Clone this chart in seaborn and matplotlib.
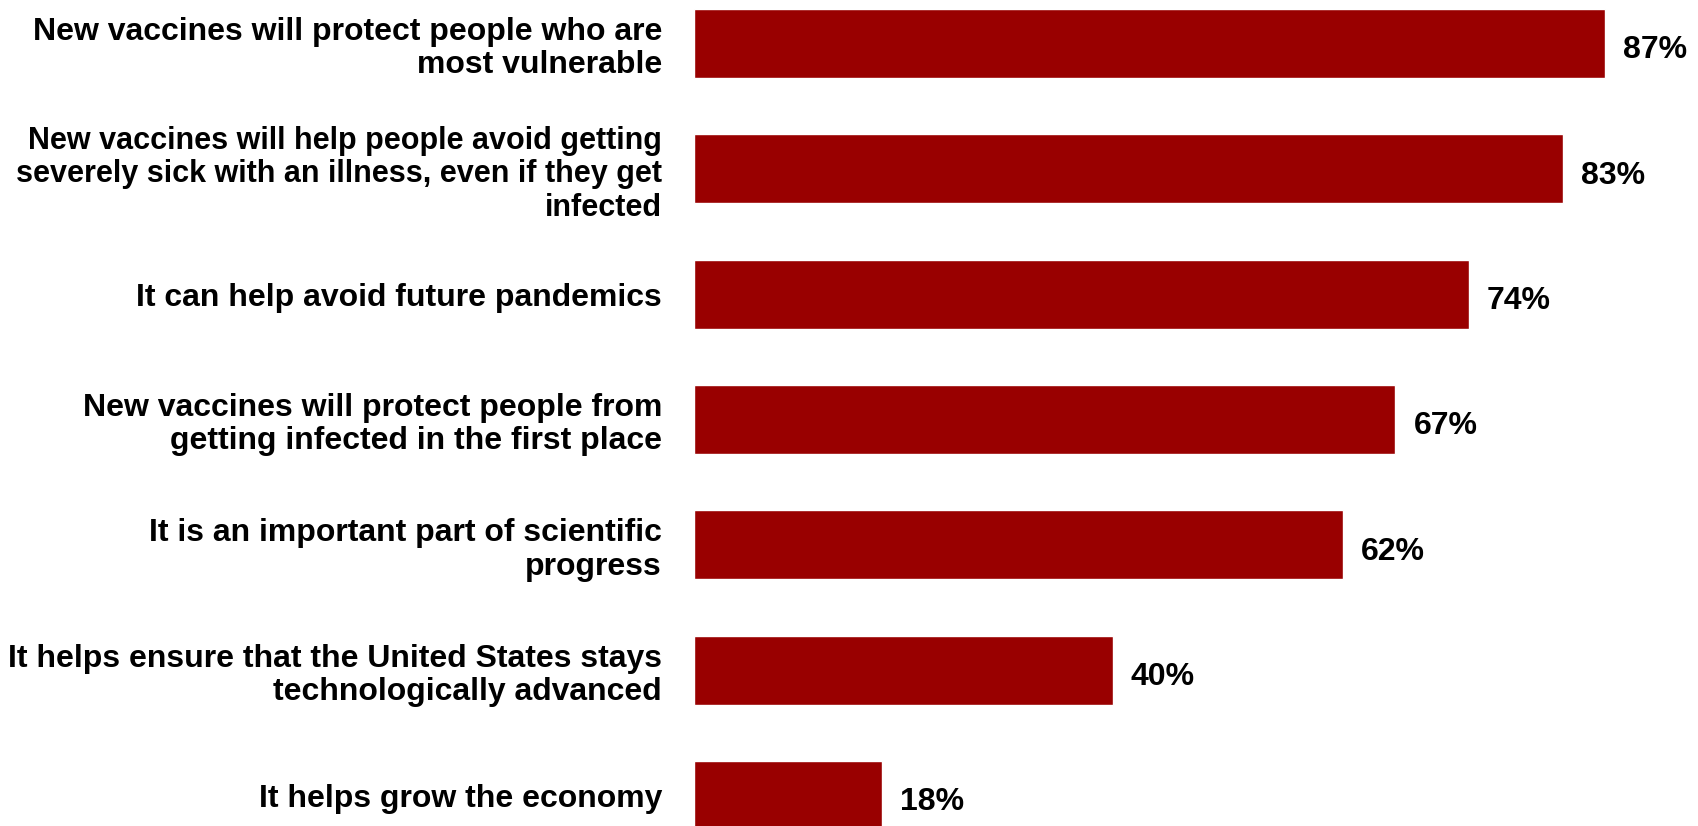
import matplotlib
matplotlib.use("Agg")
import matplotlib.pyplot as plt
import seaborn as sns
import pandas as pd

categories = [
    "New vaccines will protect people who are\nmost vulnerable",
    "New vaccines will help people avoid getting\nseverely sick with an illness, even if they get\ninfected",
    "It can help avoid future pandemics",
    "New vaccines will protect people from\ngetting infected in the first place",
    "It is an important part of scientific\nprogress",
    "It helps ensure that the United States stays\ntechnologically advanced",
    "It helps grow the economy",
]
values = [87, 83, 74, 67, 62, 40, 18]
value_labels = ["87%", "83%", "74%", "67%", "62%", "40%", "18%"]

bar_color = "#990000"

sns.set_theme(style="white")
plt.rcParams["font.family"] = ["Liberation Sans", "DejaVu Sans"]

df = pd.DataFrame({"category": categories, "value": values})

fig = plt.figure(figsize=(16.99, 8.26), dpi=100)
ax = fig.add_axes([694 / 1699, 0.0, 1 - 694 / 1699, 1.0])
sns.barplot(data=df, x="value", y="category", color=bar_color, width=0.55,
            orient="h", ax=ax, saturation=1)

ax.set_xlim(0, 96)
ax.set_ylim(6.243, -0.347)
ax.set_xlabel("")
ax.set_ylabel("")
ax.set_xticks([])
for s in ax.spines.values():
    s.set_visible(False)
ax.tick_params(axis="y", length=0, pad=23)
for i, t in enumerate(ax.get_yticklabels()):
    t.set_fontsize(22 if i == 1 else 23)
    t.set_fontweight("bold")
    t.set_linespacing(1.15)
    t.set_color("black")

for i, (v, lab) in enumerate(zip(values, value_labels)):
    ax.annotate(lab, xy=(v, i), xytext=(13, -5), textcoords="offset points",
                ha="left", va="center", fontsize=23, fontweight="bold",
                color="black")

fig.savefig("out.png", dpi=100)
